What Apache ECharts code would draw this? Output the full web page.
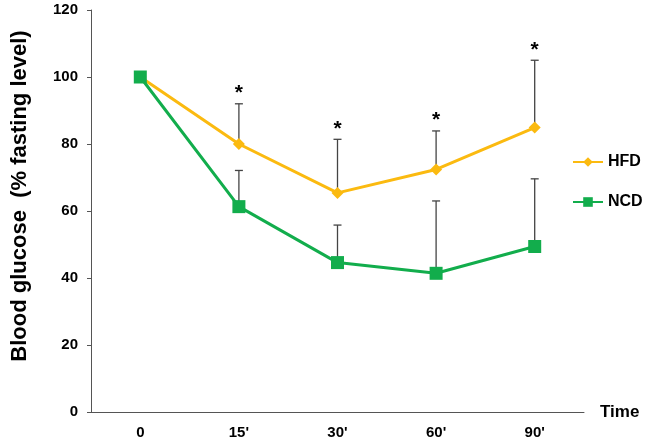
<!DOCTYPE html>
<html>
<head>
<meta charset="utf-8">
<script src="https://cdn.jsdelivr.net/npm/echarts@6/dist/echarts.min.js"></script>
<style>
  html, body { margin: 0; padding: 0; background: #fff; }
  #chart { width: 649px; height: 444px; }
</style>
</head>
<body>
<div id="chart"></div>
<script>
// time points
var timeLabels = ["0", "15'", "30'", "60'", "90'"];
// mean values (% fasting level)
var hfdMean = [100, 80, 65.4, 72.4, 84.9];
var ncdMean = [100, 61.3, 44.6, 41.4, 49.4];
// top of the error bars (null = no bar)
var hfdErrTop = [null, 92, 81.4, 83.9, 105];
var ncdErrTop = [null, 72.1, 55.8, 63, 69.6];
// significance marks over HFD
var hfdStars = ["", "*", "*", "*", "*"];
var yTicks = [0, 20, 40, 60, 80, 100, 120];

var FONT = "Liberation Sans, Arial, sans-serif";
var HFD_COLOR = "#FBBA10";
var NCD_COLOR = "#12AD4C";

function errData(tops, means, stars) {
  var out = [];
  tops.forEach(function (t, i) {
    if (t == null) return;
    out.push([i, means[i], t, stars ? stars[i] : ""]);
  });
  return out;
}

// error bar: stem from mean up to top, with a cap and optional star
function renderErr(params, api) {
  var x = api.value(0);
  var p0 = api.coord([x, api.value(1)]);
  var p1 = api.coord([x, api.value(2)]);
  var star = api.value(3);
  var style = { stroke: "#444", lineWidth: 1.3 };
  var children = [
    { type: "line", shape: { x1: p0[0], y1: p0[1], x2: p1[0], y2: p1[1] }, style: style },
    { type: "line", shape: { x1: p1[0] - 4, y1: p1[1], x2: p1[0] + 4, y2: p1[1] }, style: style }
  ];
  if (star) {
    children.push({
      type: "text",
      x: p1[0], y: p1[1],
      style: {
        text: star, fill: "#000", font: "bold 21px " + FONT,
        align: "center", verticalAlign: "bottom"
      }
    });
  }
  return { type: "group", children: children };
}

var chart = echarts.init(document.getElementById("chart"));
var option = {
  animation: false,
  grid: { left: 91, right: 65, top: 10, bottom: 32 },
  legend: {
    data: ["HFD", "NCD"],
    orient: "vertical",
    left: 567,
    top: 149,
    itemGap: 24,
    itemWidth: 30,
    itemHeight: 12,
    textStyle: { fontFamily: FONT, fontWeight: "bold", fontSize: 16, color: "#000" }
  },
  xAxis: {
    type: "category",
    data: timeLabels,
    boundaryGap: true,
    name: "Time",
    nameLocation: "end",
    nameGap: 16,
    nameTextStyle: { fontFamily: FONT, fontWeight: "bold", fontSize: 17, color: "#000", verticalAlign: "middle" },
    axisLine: { lineStyle: { color: "#555", width: 1 } },
    axisTick: { length: 4, lineStyle: { color: "#555" } },
    axisLabel: { fontFamily: FONT, fontWeight: "bold", fontSize: 15, color: "#000", margin: 13 }
  },
  yAxis: {
    type: "value",
    min: yTicks[0],
    max: yTicks[yTicks.length - 1],
    interval: 20,
    name: "Blood glucose  (% fasting level)",
    nameLocation: "middle",
    nameGap: 60,
    nameTextStyle: { fontFamily: FONT, fontWeight: "bold", fontSize: 22, color: "#000", padding: [0, 0, 0, 30] },
    axisLine: { show: true, onZero: false, lineStyle: { color: "#555", width: 1 } },
    axisTick: { show: true, length: 4, lineStyle: { color: "#555" } },
    splitLine: { show: false },
    axisLabel: { fontFamily: FONT, fontWeight: "bold", fontSize: 15, color: "#000", margin: 13 }
  },
  series: [
    {
      name: "HFD-err",
      type: "custom",
      renderItem: renderErr,
      data: errData(hfdErrTop, hfdMean, hfdStars),
      z: 1
    },
    {
      name: "NCD-err",
      type: "custom",
      renderItem: renderErr,
      data: errData(ncdErrTop, ncdMean, null),
      z: 1
    },
    {
      name: "HFD",
      type: "line",
      data: hfdMean,
      symbol: "diamond",
      symbolSize: 12,
      lineStyle: { color: HFD_COLOR, width: 3 },
      itemStyle: { color: HFD_COLOR },
      z: 3
    },
    {
      name: "NCD",
      type: "line",
      data: ncdMean,
      symbol: "rect",
      symbolSize: 13,
      lineStyle: { color: NCD_COLOR, width: 3 },
      itemStyle: { color: NCD_COLOR },
      z: 3
    }
  ]
};
chart.setOption(option);
</script>
</body>
</html>
